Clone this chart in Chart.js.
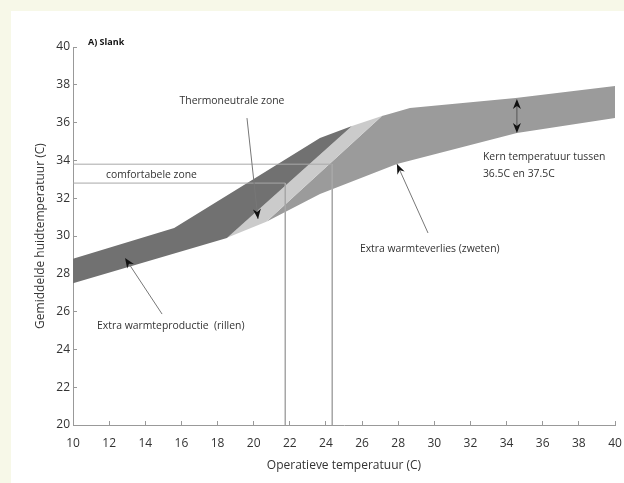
<!DOCTYPE html>
<html>
<head>
<meta charset="utf-8">
<script src="https://cdn.jsdelivr.net/npm/chart.js@4.4.0/dist/chart.umd.min.js"></script>
<style>
  html, body { margin: 0; padding: 0; background: #f7f8e8; }
  #wrap { position: absolute; left: 11px; top: 11px; width: 613px; height: 472px; background: #fff; }
</style>
</head>
<body>
<div id="wrap"><canvas id="chart" width="613" height="472"></canvas></div>
<script>
// zones: x = operatieve temperatuur, y = gemiddelde huidtemperatuur
const shiverLower = [[10, 27.5], [18.52, 29.9], [25.44, 35.82]];
const shiverUpper = [[10, 28.8], [15.6, 30.42], [19.8, 32.9], [23.67, 35.19], [25.44, 35.82]];
const neutralLower = [[18.52, 29.9], [20.7, 30.75], [27.1, 36.35]];
const neutralUpper = [[18.52, 29.9], [25.44, 35.82], [27.1, 36.35]];
const sweatLower = [[20.7, 30.75], [23.67, 32.22], [27.93, 33.81], [34.57, 35.45], [40, 36.24]];
const sweatUpper = [[20.7, 30.75], [27.1, 36.35], [27.5, 36.45], [28.65, 36.77], [34.5, 37.3], [40, 37.94]];

// comfortabele zone (hulplijnen)
const comfortHigh = [[10, 33.8], [24.35, 33.8], [24.35, 20]];
const comfortLow = [[10, 32.8], [21.75, 32.8], [21.75, 20]];

// teksten: [tekst, x, y, uitlijning, vet]
const labels = [
    ['A) Slank', 10.83, 40.26, 'left', true],
    ['Thermoneutrale zone', 18.8, 37.14, 'center', false],
    ['comfortabele zone', 14.34, 33.23, 'center', false],
    ['Kern temperatuur tussen', 32.69, 34.18, 'left', false],
    ['36.5C en 37.5C', 32.69, 33.28, 'left', false],
    ['Extra warmteverlies (zweten)', 25.88, 29.31, 'left', false],
    ['Extra warmteproductie  (rillen)', 11.33, 25.24, 'left', false]
];

// pijlen: [x1, y1, x2 (punt), y2 (punt), dubbel]
const arrows = [
    [19.63, 36.24, 20.24, 30.9, false],
    [14.93, 25.87, 12.88, 28.84, false],
    [29.65, 30.16, 27.93, 33.81, false],
    [34.57, 36.3, 34.57, 37.25, true]
];

const toPts = arr => arr.map(p => ({ x: p[0], y: p[1] }));

function band(data, color, fill) {
    return {
        data: toPts(data),
        borderWidth: 0,
        pointRadius: 0,
        backgroundColor: color,
        fill: fill
    };
}

function helpLine(data) {
    return {
        data: toPts(data),
        borderColor: '#a8a8a8',
        borderWidth: 1,
        pointRadius: 0,
        fill: false
    };
}

function drawHead(ctx, fx, fy, tx, ty) {
    const ang = Math.atan2(ty - fy, tx - fx);
    const len = 10, half = 4;
    ctx.beginPath();
    ctx.moveTo(tx, ty);
    ctx.lineTo(tx - len * Math.cos(ang) + half * Math.sin(ang), ty - len * Math.sin(ang) - half * Math.cos(ang));
    ctx.lineTo(tx - len * 0.7 * Math.cos(ang), ty - len * 0.7 * Math.sin(ang));
    ctx.lineTo(tx - len * Math.cos(ang) - half * Math.sin(ang), ty - len * Math.sin(ang) + half * Math.cos(ang));
    ctx.closePath();
    ctx.fill();
}

const annotations = {
    id: 'annotations',
    afterDatasetsDraw(chart) {
        const ctx = chart.ctx;
        const xs = chart.scales.x, ys = chart.scales.y;
        ctx.save();
        arrows.forEach(a => {
            const x1 = xs.getPixelForValue(a[0]), y1 = ys.getPixelForValue(a[1]);
            const x2 = xs.getPixelForValue(a[2]), y2 = ys.getPixelForValue(a[3]);
            if (a[4]) {
                // dubbele pijl: vanuit het midden naar beide kanten
                const yb = ys.getPixelForValue(35.45);
                ctx.strokeStyle = '#555';
                ctx.lineWidth = 1;
                ctx.beginPath();
                ctx.moveTo(x2, y2 + 4);
                ctx.lineTo(x2, yb - 4);
                ctx.stroke();
                ctx.fillStyle = '#111';
                drawHead(ctx, x2, y1, x2, y2);
                drawHead(ctx, x2, y1, x2, yb);
                return;
            }
            ctx.strokeStyle = '#777';
            ctx.lineWidth = 1;
            ctx.beginPath();
            ctx.moveTo(x1, y1);
            ctx.lineTo(x2, y2);
            ctx.stroke();
            ctx.fillStyle = '#111';
            drawHead(ctx, x1, y1, x2, y2);
        });
        ctx.textBaseline = 'middle';
        labels.forEach(l => {
            ctx.font = (l[4] ? 'bold 9px' : '10.4px') + ' "Open Sans", sans-serif';
            ctx.fillStyle = l[4] ? '#111' : '#333';
            ctx.textAlign = l[3];
            ctx.fillText(l[0], xs.getPixelForValue(l[1]), ys.getPixelForValue(l[2]));
        });
        ctx.restore();
    }
};

const ctx = document.getElementById('chart').getContext('2d');
new Chart(ctx, {
    type: 'line',
    data: {
        datasets: [
            helpLine(comfortHigh),
            helpLine(comfortLow),
            band(shiverLower, '#717171', false),
            band(shiverUpper, '#717171', '-1'),
            band(neutralLower, '#cbcbcb', false),
            band(neutralUpper, '#cbcbcb', '-1'),
            band(sweatLower, '#9b9b9b', false),
            band(sweatUpper, '#9b9b9b', '-1')
        ]
    },
    options: {
        responsive: false,
        animation: false,
        events: [],
        layout: { padding: { left: 0, top: 36, right: 9, bottom: 0 } },
        plugins: {
            legend: { display: false },
            tooltip: { enabled: false }
        },
        scales: {
            x: {
                type: 'linear',
                min: 10,
                max: 40,
                border: { color: '#999', width: 1 },
                grid: { drawOnChartArea: false, tickLength: -4, color: '#999' },
                ticks: {
                    stepSize: 2,
                    padding: 15,
                    color: '#333',
                    font: { family: '"Open Sans", sans-serif', size: 12 }
                },
                title: {
                    display: true,
                    text: 'Operatieve temperatuur (C)',
                    color: '#333',
                    padding: { top: 0, bottom: 10 },
                    font: { family: '"Open Sans", sans-serif', size: 12 }
                },
                afterFit: s => {
                    s.height = 58;
                    s.paddingLeft = 0;
                    s.paddingRight = 0;
                }
            },
            y: {
                type: 'linear',
                min: 20,
                max: 40,
                border: { color: '#999', width: 1 },
                grid: { drawOnChartArea: false, tickLength: -4, color: '#999' },
                ticks: {
                    stepSize: 2,
                    padding: 7,
                    color: '#333',
                    font: { family: '"Open Sans", sans-serif', size: 12 }
                },
                title: {
                    display: true,
                    text: 'Gemiddelde huidtemperatuur (C)',
                    color: '#333',
                    padding: { top: 22, bottom: 0 },
                    font: { family: '"Open Sans", sans-serif', size: 12 }
                },
                afterFit: s => {
                    s.width = 62;
                    s.paddingTop = 0;
                    s.paddingBottom = 0;
                }
            }
        }
    },
    plugins: [annotations]
});
</script>
</body>
</html>
